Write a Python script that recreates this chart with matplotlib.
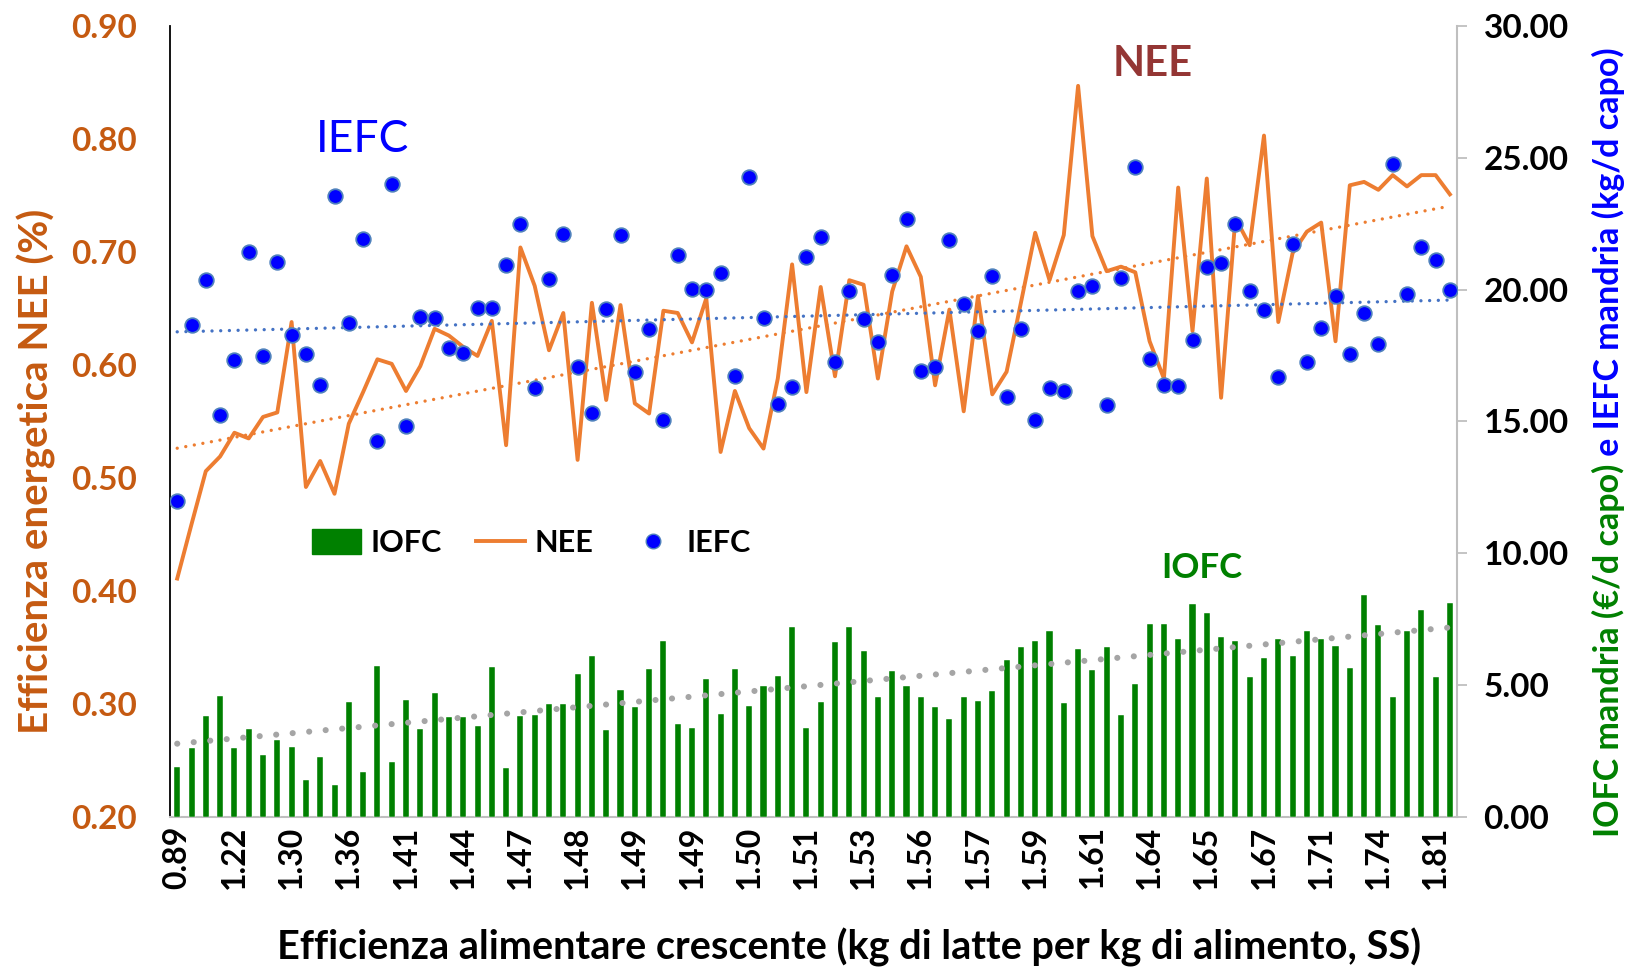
import numpy as np
import matplotlib
matplotlib.use('Agg')
import matplotlib.pyplot as plt
from matplotlib.lines import Line2D
from matplotlib.patches import Patch

plt.rcParams['font.family'] = ['Lato', 'DejaVu Sans']

# x tick labels (one every 4 categories)
tick_labels = ['0.89', '1.22', '1.30', '1.36', '1.41', '1.44', '1.47', '1.48',
               '1.49', '1.49', '1.50', '1.51', '1.53', '1.56', '1.57', '1.59',
               '1.61', '1.64', '1.65', '1.67', '1.71', '1.74', '1.81']

# IOFC mandria (EUR/d capo) - bars, right axis
iofc = [1.90, 2.60, 3.83, 4.59, 2.63, 3.32, 2.35, 2.93, 2.64, 1.39,
        2.29, 1.21, 4.35, 1.69, 5.71, 2.10, 4.42, 3.32, 4.72, 3.79,
        3.79, 3.44, 5.70, 1.86, 3.82, 3.88, 4.27, 4.27, 5.44, 6.09,
        3.29, 4.80, 4.18, 5.61, 6.66, 3.53, 3.36, 5.22, 3.89, 5.63,
        4.21, 4.98, 5.35, 7.21, 3.38, 4.36, 6.65, 7.21, 6.28, 4.54,
        5.54, 4.98, 4.56, 4.17, 3.70, 4.54, 4.41, 4.79, 5.97, 6.45,
        6.66, 7.04, 4.34, 6.36, 5.56, 6.45, 3.88, 5.03, 7.32, 7.32,
        6.76, 8.07, 7.75, 6.83, 6.69, 5.32, 6.02, 6.74, 6.12, 7.04,
        6.74, 6.47, 5.66, 8.41, 7.27, 4.55, 7.05, 7.84, 5.31, 8.10]

# NEE - line, left axis
nee = [0.411, 0.459, 0.506, 0.519, 0.540, 0.535, 0.554, 0.558, 0.638, 0.492,
       0.515, 0.486, 0.548, 0.576, 0.605, 0.601, 0.577, 0.599, 0.632, 0.626,
       0.616, 0.608, 0.639, 0.529, 0.704, 0.670, 0.613, 0.646, 0.516, 0.655,
       0.569, 0.653, 0.566, 0.557, 0.648, 0.646, 0.620, 0.659, 0.523, 0.577,
       0.544, 0.526, 0.588, 0.689, 0.576, 0.669, 0.590, 0.675, 0.671, 0.588,
       0.665, 0.705, 0.678, 0.582, 0.649, 0.559, 0.661, 0.574, 0.594, 0.655,
       0.717, 0.675, 0.715, 0.847, 0.714, 0.683, 0.687, 0.682, 0.621, 0.588,
       0.757, 0.630, 0.765, 0.571, 0.730, 0.706, 0.803, 0.638, 0.699, 0.718,
       0.726, 0.621, 0.759, 0.762, 0.755, 0.768, 0.758, 0.768, 0.768, 0.751]

# IEFC mandria (kg/d capo) - dots, right axis
iefc = [11.99, 18.67, 20.36, 15.23, 17.32, 21.42, 17.47, 21.04, 18.27, 17.54,
        16.38, 23.54, 18.73, 21.93, 14.25, 24.02, 14.81, 18.97, 18.91, 17.80,
        17.60, 19.29, 19.29, 20.93, 22.49, 16.27, 20.40, 22.10, 17.05, 15.31,
        19.27, 22.09, 16.88, 18.49, 15.07, 21.30, 20.04, 20.00, 20.64, 16.71,
        24.26, 18.93, 15.65, 16.31, 21.24, 21.99, 17.27, 19.93, 18.87, 18.03,
        20.57, 22.69, 16.90, 17.05, 21.89, 19.47, 18.44, 20.53, 15.94, 18.49,
        15.04, 16.27, 16.17, 19.93, 20.13, 15.63, 20.46, 24.66, 17.36, 16.38,
        16.34, 18.10, 20.84, 21.00, 22.49, 19.93, 19.24, 16.67, 21.73, 17.27,
        18.56, 19.76, 17.54, 19.13, 17.94, 24.75, 19.83, 21.60, 21.13, 20.00]

GREEN = '#008000'
ORANGE = '#ED7D31'
DARK_OR = '#C55A11'
BLUE = '#0000FF'
GRAY = '#BFBFBF'

x = np.arange(len(iofc))

fig = plt.figure(figsize=(16.32, 9.69), dpi=100)
ax = fig.add_axes([0.1042, 0.1569, 0.7886, 0.8163])
ax2 = ax.twinx()

# --- left axis: NEE line + trend ---
ax.plot(x, nee, color=ORANGE, lw=2.8, zorder=3)
c = np.polyfit(x, nee, 1)
ax.plot(x, np.polyval(c, x), color=ORANGE, lw=2.4,
        linestyle=(0, (0.01, 2.6)), dash_capstyle='round', zorder=2)
ax.set_ylim(0.2, 0.9)
ax.set_yticks(np.arange(0.2, 0.91, 0.1))
ax.set_yticklabels([f'{v:.2f}' for v in np.arange(0.2, 0.91, 0.1)])
ax.tick_params(axis='y', length=0, pad=24, labelsize=24, labelcolor=DARK_OR)
for t in ax.get_yticklabels():
    t.set_fontweight('bold')

ax.set_xlim(-0.5, len(x) - 0.5)
ax.set_xticks(x[::4])
ax.set_xticklabels(tick_labels, rotation=90, fontsize=23, fontweight='bold')
ax.tick_params(axis='x', length=0, pad=6)

ax.spines['top'].set_visible(False)
ax.spines['right'].set_visible(False)
ax.spines['left'].set_color('black')
ax.spines['left'].set_linewidth(1.3)
ax.spines['bottom'].set_color(GRAY)
ax.spines['bottom'].set_linewidth(1.5)

# --- right axis: IOFC bars + IEFC dots + trends ---
ax2.bar(x, iofc, width=0.42, color=GREEN, edgecolor='white', linewidth=0.3, zorder=2)
c = np.polyfit(x, iofc, 1)
ax2.plot(x, np.polyval(c, x), color='#A5A5A5', lw=4.4,
         linestyle=(0, (0.01, 2.7)), dash_capstyle='round', zorder=3)
c = np.polyfit(x, iefc, 1)
ax2.plot(x, np.polyval(c, x), color='#4472C4', lw=2.4,
         linestyle=(0, (0.01, 2.6)), dash_capstyle='round', zorder=3)
ax2.plot(x, iefc, linestyle='none', marker='o', ms=10.5, mfc=BLUE,
         mec='#4F81BD', mew=1.3, zorder=4)
ax2.set_ylim(0, 30)
ax2.set_yticks(np.arange(0, 31, 5))
ax2.set_yticklabels([f'{v:.2f}' for v in np.arange(0, 31, 5)])
ax2.tick_params(axis='y', length=7, width=1.3, color=GRAY, pad=12, labelsize=24)
for t in ax2.get_yticklabels():
    t.set_fontweight('bold')
for s in ['top', 'left', 'bottom']:
    ax2.spines[s].set_visible(False)
ax2.spines['right'].set_color(GRAY)
ax2.spines['right'].set_linewidth(1.5)

# annotations
fig.text(363 / 1632, 1 - 140 / 969, 'IEFC', color=BLUE, fontsize=32,
         ha='center', va='center')
fig.text(1153 / 1632, 1 - 64 / 969, 'NEE', color='#943634', fontsize=30,
         fontweight='bold', ha='center', va='center')
fig.text(1202 / 1632, 1 - 568 / 969, 'IOFC', color=GREEN, fontsize=25,
         fontweight='bold', ha='center', va='center')

# legend
handles = [Patch(facecolor=GREEN, edgecolor=GREEN),
           Line2D([], [], color=ORANGE, lw=2.8),
           Line2D([], [], linestyle='none', marker='o', ms=10.5, mfc=BLUE, mec='#4F81BD')]
leg = ax2.legend(handles, ['IOFC', 'NEE', 'IEFC'], ncol=3, frameon=False,
                 loc='center left', bbox_to_anchor=(312 / 1632, 1 - 543 / 969),
                 bbox_transform=fig.transFigure, fontsize=22, handlelength=1.6,
                 handleheight=0.9, handletextpad=0.3, columnspacing=1.15,
                 borderaxespad=0, borderpad=0)
for t in leg.get_texts():
    t.set_fontweight('bold')

# axis titles
fig.text(849 / 1632, 1 - 947 / 969,
         'Efficienza alimentare crescente (kg di latte per kg di alimento, SS)',
         fontsize=28.5, fontweight='bold', ha='center', va='center')
fig.text(36 / 1632, 1 - 471 / 969, 'Efficienza energetica NEE (%)', color=DARK_OR,
         fontsize=29, fontweight='bold', rotation=90, ha='center', va='center')

t1 = fig.text(1608 / 1632, 1 - 837 / 969, 'IOFC mandria (€/d capo)', color=GREEN,
              fontsize=24.5, fontweight='bold', rotation=90, ha='center', va='bottom')
fig.canvas.draw()
bb = t1.get_window_extent().transformed(fig.transFigure.inverted())
fig.text(1608 / 1632, bb.y1, ' e IEFC mandria (kg/d capo)', color=BLUE,
         fontsize=24.5, fontweight='bold', rotation=90, ha='center', va='bottom')

fig.savefig('out.png', dpi=100)
